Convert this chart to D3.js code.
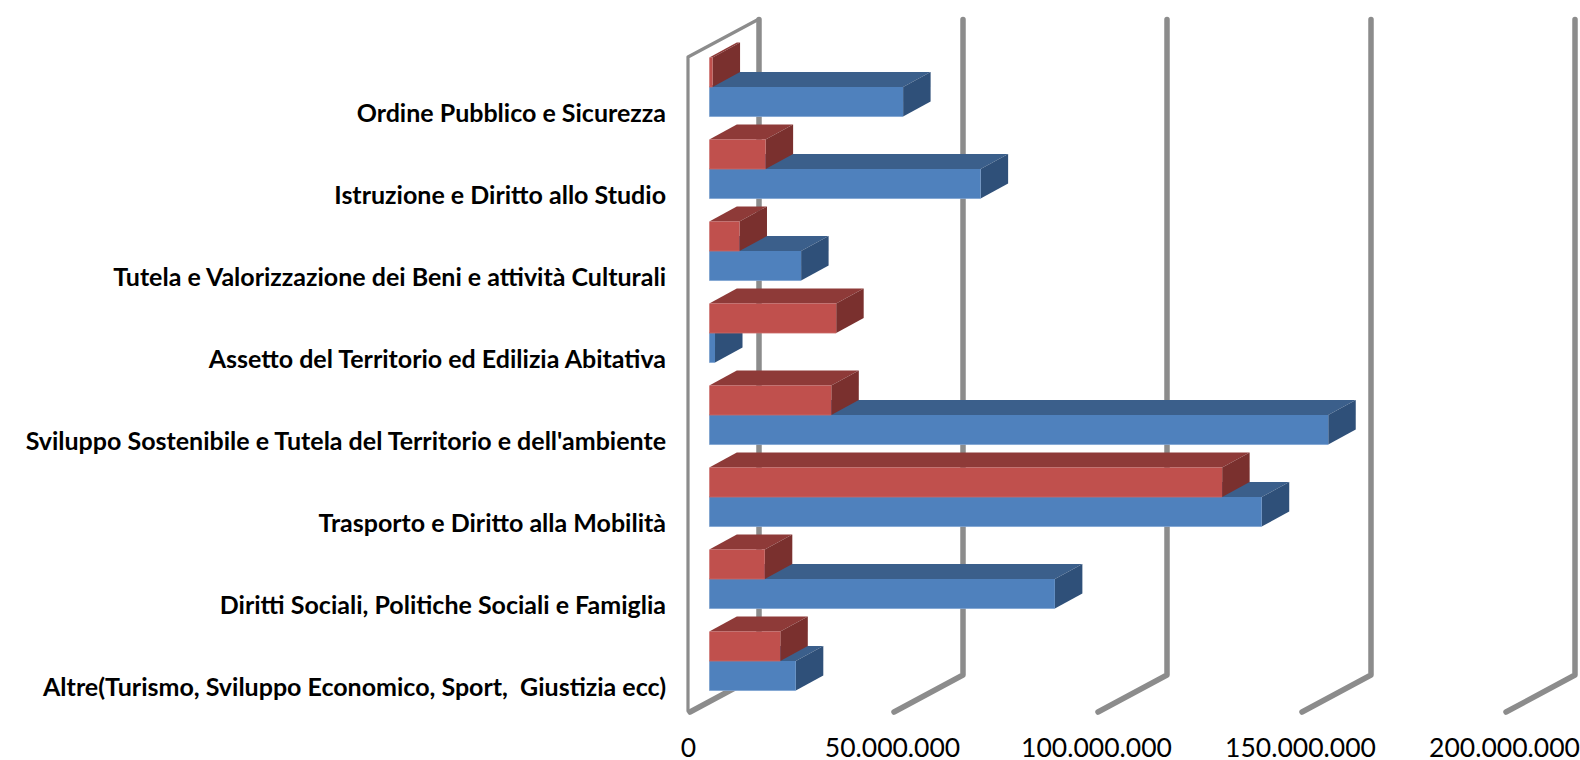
<!DOCTYPE html>
<html><head><meta charset="utf-8">
<script src="https://cdn.jsdelivr.net/npm/d3@7"></script>
<style>html,body{margin:0;padding:0;background:#fff;overflow:hidden}svg{display:block}</style>
</head><body><svg id="c" width="1580" height="760"></svg>
<script>
const categories = ["Ordine Pubblico e Sicurezza","Istruzione e Diritto allo Studio","Tutela e Valorizzazione dei Beni e attività Culturali","Assetto del Territorio ed Edilizia Abitativa","Sviluppo Sostenibile e Tutela del Territorio e dell'ambiente","Trasporto e Diritto alla Mobilità","Diritti Sociali, Politiche Sociali e Famiglia","Altre(Turismo, Sviluppo Economico, Sport,  Giustizia ecc)"];
const blueValues = [47.5e6,66.5e6,22.5e6,1.4e6,151.7e6,135.4e6,84.7e6,21.2e6];
const redValues  = [0.8e6,13.8e6,7.4e6,31.1e6,29.9e6,125.7e6,13.6e6,17.4e6];
const xTicks = [0,50e6,100e6,150e6,200e6];

const W=1580,H=760;
const svg=d3.select("#c");
const FONT="Lato, Carlito, Calibri, sans-serif";
const floorY=713, ceilY=57, wallDX=71, wallDY=38;      // wall depth
const depthX=27.5, depthY=15;                          // bar depth
const wallX=d3.scaleLinear().domain([0,200e6]).range([688,1504]);
const barX=d3.scaleLinear().domain([0,200e6]).range([709.3,1525.3]);
const y=d3.scaleBand().domain(categories).range([46,702]).paddingInner(0.28).paddingOuter(0.14);
const ySeries=d3.scaleBand().domain(["red","blue"]).range([0,y.bandwidth()]);
const grey="#8c8c8c";

const grid=svg.append("g").attr("fill","none").attr("stroke",grey).attr("stroke-linejoin","round").attr("stroke-linecap","round");
grid.selectAll("path.g").data(xTicks).join("path").attr("class","g").attr("stroke-width",5.5)
 .attr("d",d=>{const f=wallX(d),b=f+wallDX;return d3.line()([[b,ceilY-wallDY+0.5],[b,floorY-wallDY],[f+2,floorY-1]]);});
grid.append("path").attr("stroke-width",3.2)
 .attr("d",d3.line()([[wallX(0),floorY-2],[wallX(0),ceilY],[wallX(0)+wallDX,ceilY-wallDY]]));

const series=[{k:"blue",vals:blueValues,front:"#4f81bd",top:"#3b5f8b",side:"#2f5079",edge:"#7ea3d2"},
              {k:"red",vals:redValues,front:"#c0504d",top:"#8e3a38",side:"#7a302e",edge:"#c96a67"}];
const bars=svg.append("g");
categories.forEach((c,i)=>{
 series.forEach(s=>{
  const g=bars.append("g");
  const x0=barX(0),x1=barX(s.vals[i]),y0=y(c)+ySeries(s.k),h=ySeries.bandwidth();
  g.append("path").attr("fill",s.top).attr("d",d3.line()([[x0,y0],[x0+depthX,y0-depthY],[x1+depthX,y0-depthY],[x1,y0]])+"Z");
  g.append("path").attr("fill",s.side).attr("d",d3.line()([[x1,y0],[x1+depthX,y0-depthY],[x1+depthX,y0+h-depthY],[x1,y0+h]])+"Z");
  g.append("rect").attr("x",x0).attr("y",y0).attr("width",x1-x0).attr("height",h).attr("fill",s.front);
  g.append("path").attr("fill","none").attr("stroke",s.edge).attr("stroke-width",0.8).attr("d",d3.line()([[x0,y0+h],[x1,y0+h]]));
 });
});

const fmt=d3.formatLocale({decimal:",",thousands:".",grouping:[3],currency:["€",""]}).format(",d");
const xa=svg.append("g").attr("transform","translate(0,738)")
 .call(d3.axisBottom(wallX).tickValues(xTicks).tickFormat(fmt).tickSize(0).tickPadding(0));
xa.select(".domain").remove();
xa.selectAll("text").attr("font-family",FONT).attr("font-size",26.5).attr("fill","#000").attr("dy","0.71em");

const ya=svg.append("g").attr("transform","translate(666,27)")
 .call(d3.axisLeft(y).tickSize(0).tickPadding(0));
ya.select(".domain").remove();
ya.selectAll("text").attr("font-family",FONT).attr("font-size",25).attr("font-weight",700).attr("fill","#000").style("white-space","pre");
</script></body></html>
